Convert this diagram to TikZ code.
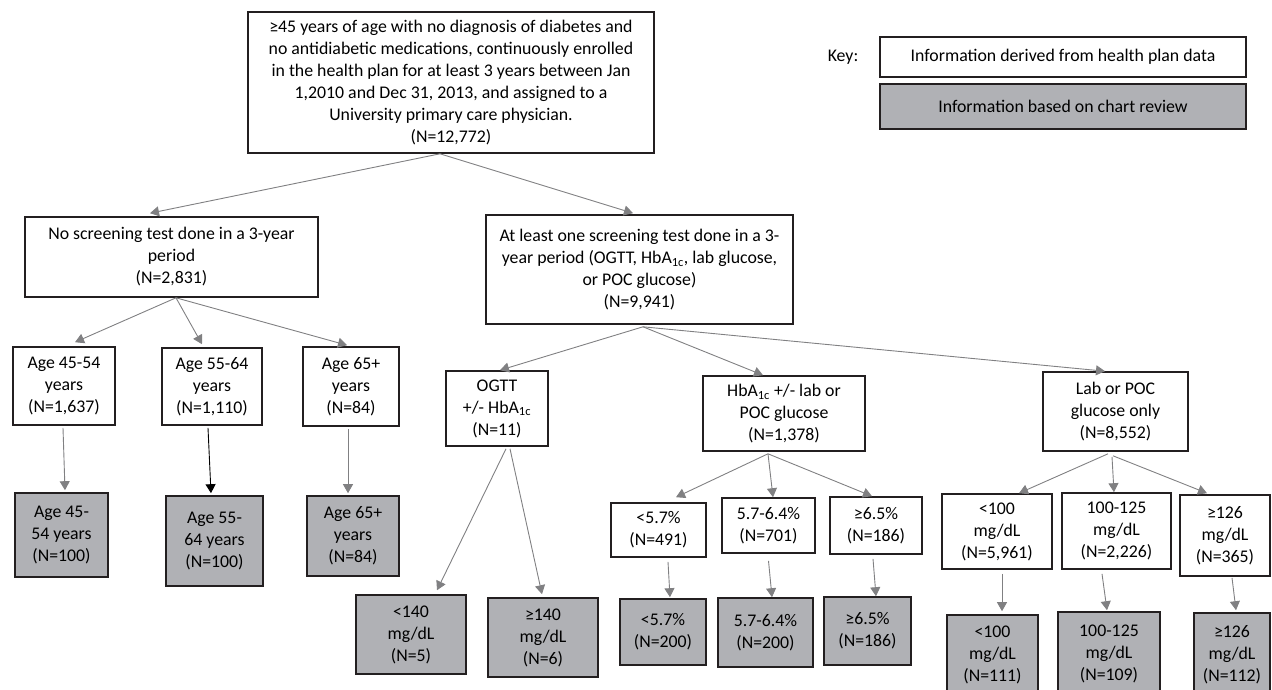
\documentclass[tikz,border=0pt]{standalone}
\usepackage{fontspec}
\setmainfont{Carlito}
\usepackage{tikz}
\usetikzlibrary{arrows.meta}
\definecolor{boxline}{RGB}{35,31,32}
\definecolor{chartgrey}{RGB}{176,177,181}
\definecolor{arrowgrey}{RGB}{128,128,130}
\tikzset{
    databox/.style={
        draw=boxline, line width=1.6pt, rectangle,
        fill=white, align=center, inner sep=0pt, text=black,
        font=\fontsize{17.8}{22}\selectfont
    },
    chartbox/.style={
        databox, fill=chartgrey
    }
}

\begin{document}
\begin{tikzpicture}[
        x=1pt, y=-1pt,
        flow/.style={
            draw=arrowgrey, line width=0.9pt,
            -{Triangle[width=10pt,length=9pt]}
        }
      ]
    \useasboundingbox (0,0) rectangle (1272,690);

    % top box and key
    \node[databox,minimum width=406pt,minimum height=141pt] (T) at (451,82.5)
        {≥45 years of age with no diagnosis of diabetes and\\
         no antidiabetic medications, continuously enrolled\\
         in the health plan for at least 3 years between Jan\\
         1,2010 and Dec 31, 2013, and assigned to a\\
         University primary care physician.\\
         (N=12,772)};
    \node[font=\fontsize{17.8}{22}\selectfont] (key) at (843,57) {Key:};
    \node[databox,minimum width=366pt,minimum height=40pt] (K1) at (1063,57)
        {Information derived from health plan data};
    \node[chartbox,minimum width=366pt,minimum height=45pt] (K2) at (1063,106.5)
        {Information based on chart review};

    % screening
    \node[databox,minimum width=293pt,minimum height=80pt] (N) at (171.5,257)
        {No screening test done in a 3-year\\ period\\ (N=2,831)};
    \node[databox,minimum width=307pt,minimum height=109pt] (S) at (639.5,269.5)
        {At least one screening test done in a 3-\\
         year period (OGTT, HbA\textsubscript{1c}, lab glucose,\\
         or POC glucose)\\ (N=9,941)};

    % no screening by age
    \node[databox,minimum width=102pt,minimum height=78pt] (A1) at (64,386)
        {Age 45-54\\ years\\ (N=1,637)};
    \node[databox,minimum width=100pt,minimum height=77pt] (A2) at (212,386.5)
        {Age 55-64\\ years\\ (N=1,110)};
    \node[databox,minimum width=96pt,minimum height=79pt] (A3) at (351,386.5)
        {Age 65+\\ years\\ (N=84)};
    \node[chartbox,minimum width=93pt,minimum height=84pt] (G1) at (61.5,535)
        {Age 45-\\ 54 years\\ (N=100)};
    \node[chartbox,minimum width=97pt,minimum height=90pt] (G2) at (214.5,541)
        {Age 55-\\ 64 years\\ (N=100)};
    \node[chartbox,minimum width=92pt,minimum height=80pt] (G3) at (353,536)
        {Age 65+\\ years\\ (N=84)};

    % test types
    \node[databox,minimum width=102pt,minimum height=75pt] (O) at (497,408.5)
        {OGTT\\ +/- HbA\textsubscript{1c}\\ (N=11)};
    \node[databox,minimum width=162pt,minimum height=75pt] (H) at (784,413.5)
        {HbA\textsubscript{1c} +/- lab or\\ POC glucose\\ (N=1,378)};
    \node[databox,minimum width=145pt,minimum height=79pt] (L) at (1115.5,411.5)
        {Lab or POC\\ glucose only\\ (N=8,552)};

    % OGTT results
    \node[chartbox,minimum width=110pt,minimum height=79pt] (O1) at (411,634.5)
        {<140\\ mg/dL\\ (N=5)};
    \node[chartbox,minimum width=110pt,minimum height=79pt] (O2) at (543,637.5)
        {≥140\\ mg/dL\\ (N=6)};

    % HbA1c results
    \node[databox,minimum width=95pt,minimum height=54pt] (H1) at (658.5,530)
        {<5.7\%\\ (N=491)};
    \node[databox,minimum width=93pt,minimum height=55pt] (H2) at (768.5,525.5)
        {5.7-6.4\%\\ (N=701)};
    \node[databox,minimum width=92pt,minimum height=57pt] (H3) at (876,525.5)
        {≥6.5\%\\ (N=186)};
    \node[chartbox,minimum width=86pt,minimum height=66pt] (H1g) at (663,632)
        {<5.7\%\\ (N=200)};
    \node[chartbox,minimum width=95pt,minimum height=69pt] (H2g) at (765.5,632.5)
        {5.7-6.4\%\\ (N=200)};
    \node[chartbox,minimum width=87pt,minimum height=68pt] (H3g) at (867.5,631)
        {≥6.5\%\\ (N=186)};

    % glucose results
    \node[databox,minimum width=110pt,minimum height=75pt] (L1) at (997,531.5)
        {<100\\ mg/dL\\ (N=5,961)};
    \node[databox,minimum width=109pt,minimum height=76pt] (L2) at (1116.5,531)
        {100-125\\ mg/dL\\ (N=2,226)};
    \node[databox,minimum width=90pt,minimum height=81pt] (L3) at (1225,535.5)
        {≥126\\ mg/dL\\ (N=365)};
    \node[chartbox,minimum width=91pt,minimum height=80pt] (L1g) at (992.5,655)
        {<100\\ mg/dL\\ (N=111)};
    \node[chartbox,minimum width=102pt,minimum height=83pt] (L2g) at (1109,653.5)
        {100-125\\ mg/dL\\ (N=109)};
    \node[chartbox,minimum width=76pt,minimum height=84pt] (L3g) at (1232,655)
        {≥126\\ mg/dL\\ (N=112)};

    \draw[flow] ([xshift=-11pt]T.south) -- ([xshift=-21.5pt,yshift=3pt]N.north);
    \draw[flow] ([xshift=-11pt]T.south) -- ([xshift=-6.5pt,yshift=1pt]S.north);

    \draw[flow] ([xshift=4.5pt]N.south) -- ([xshift=11pt,yshift=4pt]A1.north);
    \draw[flow] ([xshift=4.5pt]N.south) -- ([xshift=-10pt,yshift=3pt]A2.north);
    \draw[flow] ([xshift=4.5pt]N.south) -- ([xshift=-4pt,yshift=1pt]A3.north);
    \draw[flow] ([xshift=-1pt,yshift=-2pt]A1.south) -- ([xshift=3.5pt,yshift=2pt]G1.north);
    \draw[flow,draw=black] ([xshift=-4pt,yshift=-2pt]A2.south) -- ([xshift=-3.5pt,yshift=2pt]G2.north);
    \draw[flow] ([xshift=-3pt,yshift=-2pt]A3.south) -- ([xshift=-5pt,yshift=2pt]G3.north);

    \draw[flow] ([xshift=3.5pt,yshift=-2pt]S.south) -- ([xshift=3pt]O.north);
    \draw[flow] ([xshift=3.5pt,yshift=-2pt]S.south) -- ([xshift=-21pt]H.north);
    \draw[flow] ([xshift=3.5pt,yshift=-2pt]S.south) -- ([xshift=-10.5pt]L.north);

    \draw[flow] ([xshift=9pt,yshift=-2pt]O.south) -- ([xshift=26pt,yshift=4pt]O1.north);
    \draw[flow] ([xshift=13pt,yshift=-2pt]O.south) -- ([xshift=-1pt,yshift=3pt]O2.north);

    \draw[flow] ([xshift=-16pt,yshift=-2pt]H.south) -- ([xshift=17.5pt,yshift=5pt]H1.north);
    \draw[flow] ([xshift=-16pt,yshift=-2pt]H.south) -- ([xshift=4.5pt]H2.north);
    \draw[flow] ([xshift=-16pt,yshift=-2pt]H.south) -- ([xshift=-4pt]H3.north);
    \draw[flow] ([xshift=9.5pt,yshift=-4pt]H1.south) -- ([xshift=7pt,yshift=1pt]H1g.north);
    \draw[flow] ([yshift=-7pt]H2.south) -- ([xshift=6.5pt]H2g.north);
    \draw[flow] ([xshift=-3pt,yshift=-4pt]H3.south) -- ([xshift=8.5pt]H3g.north);

    \draw[flow] ([xshift=-7.5pt,yshift=-2pt]L.south) -- ([xshift=22pt]L1.north);
    \draw[flow] ([xshift=-3.5pt,yshift=-5pt]L.south) -- ([xshift=-2.5pt]L2.north);
    \draw[flow] ([xshift=-2.5pt,yshift=-4pt]L.south) -- ([xshift=-18pt,yshift=1pt]L3.north);
    \draw[flow] ([xshift=5pt,yshift=-4pt]L1.south) -- ([xshift=9.5pt,yshift=3pt]L1g.north);
    \draw[flow] ([xshift=-14.5pt,yshift=-4pt]L2.south) -- ([xshift=-2pt,yshift=1pt]L2g.north);
    \draw[flow] ([xshift=7pt,yshift=-1pt]L3.south) -- ([xshift=4pt,yshift=2pt]L3g.north);

\end{tikzpicture}
\end{document}
